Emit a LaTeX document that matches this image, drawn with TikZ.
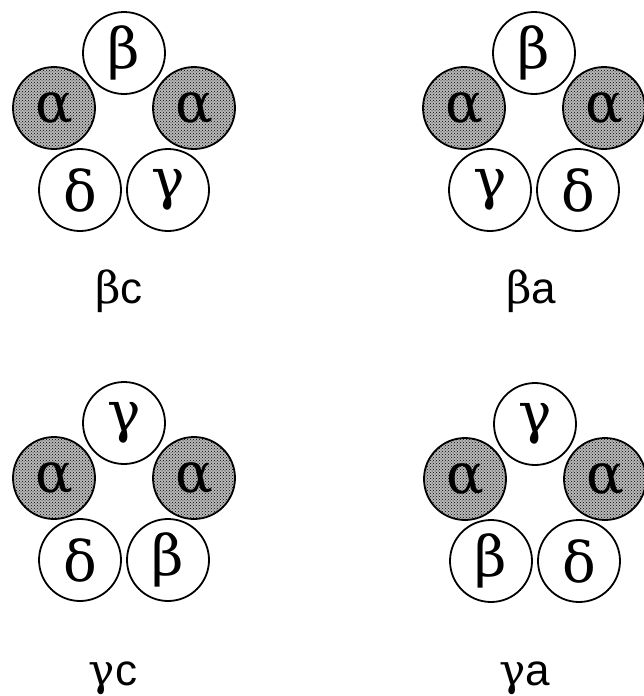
\documentclass[tikz,border=0pt]{standalone}
\usepackage{fontspec}
\setmainfont{DejaVu Serif}
\newfontfamily\labelfont{Liberation Sans}
\usetikzlibrary{positioning, patterns}

\begin{document}
\begin{tikzpicture}[x=1pt, y=1pt, on grid,
subunit/.style={
    circle,
    draw=black,
    line width=1.8pt,
    fill=white,
    minimum size=82pt,
    inner sep=0pt,
    font=\fontsize{56}{56}\selectfont
},
alphaunit/.style={subunit, preaction={fill=black!28}, pattern=crosshatch dots, pattern color=black},
caption/.style={anchor=base, font=\fontsize{44}{44}\labelfont}]

  \useasboundingbox (0,0) rectangle (643,-696);

  % beta c
  \node (bcTop) [subunit] at (124,-53) {β};
  \node (bcAl) [alphaunit, below left=55pt and 70pt of bcTop] {α};
  \node (bcAr) [alphaunit, below right=55pt and 70pt of bcTop] {α};
  \node (bcDl) [subunit, below left=137pt and 44pt of bcTop] {δ};
  \node (bcDr) [subunit, below right=137pt and 44pt of bcTop] {γ};
  \node (bcName) [caption] at (119,-303) {\rmfamily β\labelfont c};

  % beta a
  \node (baTop) [subunit] at (534,-53) {β};
  \node (baAl) [alphaunit, below left=55pt and 70pt of baTop] {α};
  \node (baAr) [alphaunit, below right=55pt and 70pt of baTop] {α};
  \node (baDl) [subunit, below left=137pt and 44pt of baTop] {γ};
  \node (baDr) [subunit, below right=137pt and 44pt of baTop] {δ};
  \node (baName) [caption] at (531,-303) {\rmfamily β\labelfont a};

  % gamma c
  \node (gcTop) [subunit] at (124,-423) {γ};
  \node (gcAl) [alphaunit, below left=55pt and 70pt of gcTop] {α};
  \node (gcAr) [alphaunit, below right=55pt and 70pt of gcTop] {α};
  \node (gcDl) [subunit, below left=137pt and 44pt of gcTop] {δ};
  \node (gcDr) [subunit, below right=137pt and 44pt of gcTop] {β};
  \node (gcName) [caption] at (113,-685) {\rmfamily γ\labelfont c};

  % gamma a
  \node (gaTop) [subunit] at (535,-424) {γ};
  \node (gaAl) [alphaunit, below left=55pt and 70pt of gaTop] {α};
  \node (gaAr) [alphaunit, below right=55pt and 70pt of gaTop] {α};
  \node (gaDl) [subunit, below left=137pt and 44pt of gaTop] {β};
  \node (gaDr) [subunit, below right=137pt and 44pt of gaTop] {δ};
  \node (gaName) [caption] at (525,-685) {\rmfamily γ\labelfont a};

\end{tikzpicture}
\end{document}
